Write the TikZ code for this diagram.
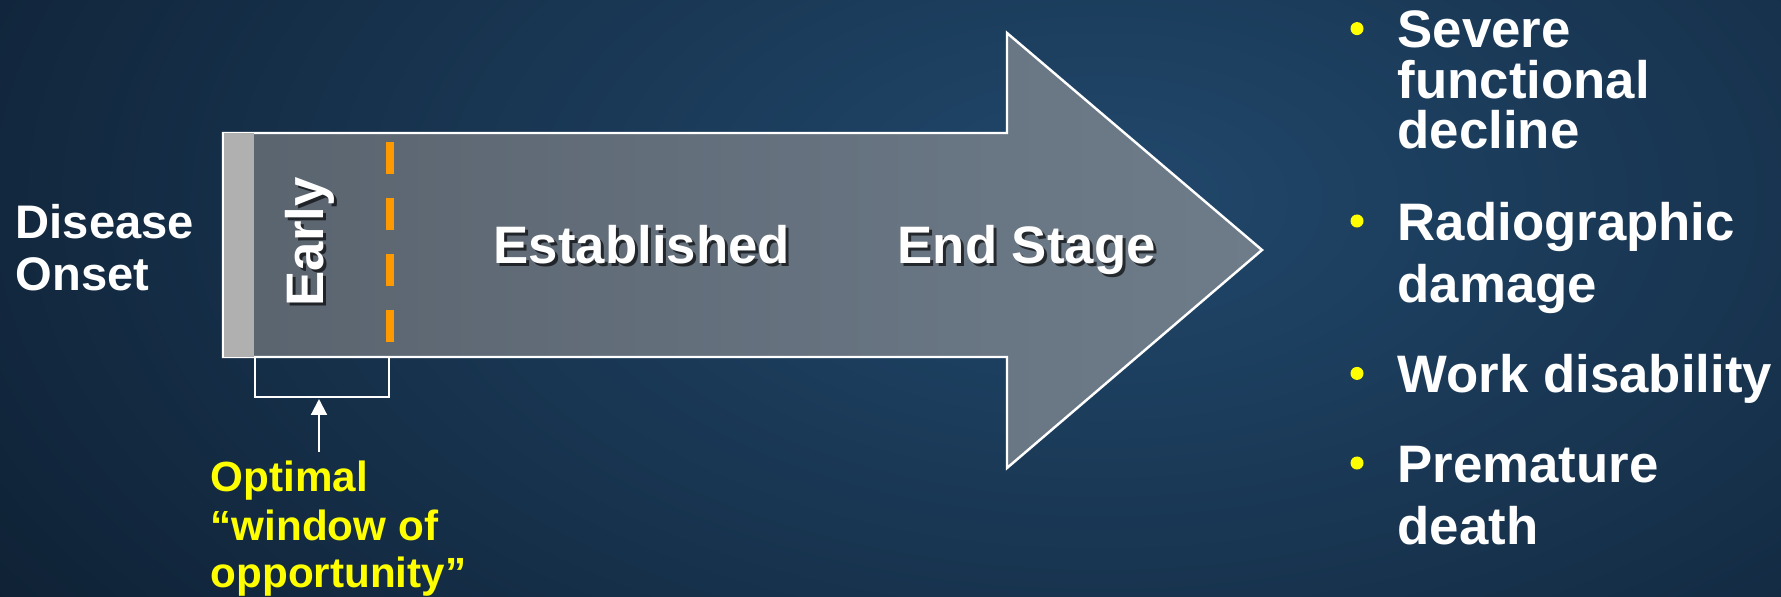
\documentclass[tikz,border=0pt]{standalone}
\usepackage{fontspec}
\setmainfont{Liberation Sans}
\usetikzlibrary{arrows.meta}

\definecolor{bgdark}{RGB}{11,25,41}
\definecolor{bglight}{RGB}{33,72,108}
\definecolor{shaftL}{RGB}{90,100,111}
\definecolor{shaftR}{RGB}{110,124,138}
\definecolor{onsetgray}{RGB}{176,176,176}
\definecolor{earlyorange}{RGB}{255,153,0}
\definecolor{hiyellow}{RGB}{255,255,0}

\begin{document}
\begin{tikzpicture}[x=0.01cm, y=-0.01cm, >={Triangle[length=4.5pt,width=4.5pt]},
  lbl/.style={inner sep=0, text=white, anchor=base west},
  stage/.style={lbl, font=\fontsize{15}{18}\selectfont\bfseries},
  shadow/.style={text=black, opacity=.65},
  item/.style={lbl, font=\fontsize{15}{18}\selectfont\bfseries},
  note/.style={lbl, text=hiyellow, font=\fontsize{12}{14}\selectfont\bfseries},
  dot/.style={circle, fill=hiyellow, inner sep=0, minimum size=3.7pt}]
% ---------- parameters ----------
\def\xL{223}   % left end of arrow
\def\xN{1007}  % start of arrow head
\def\xT{1262}  % tip
\def\yT{133}   % top of shaft
\def\yB{357}   % bottom of shaft

% ---------- background ----------
\useasboundingbox (0,0) rectangle (1781,597);
\begin{scope}
  \clip (0,0) rectangle (1781,597);
  \shade[inner color=bglight, outer color=bgdark] (-500,-700) rectangle (2700,1100);
\end{scope}

% ---------- arrow ----------
\draw[white, line width=0.7pt, left color=shaftL, right color=shaftR, line join=miter]
  (\xL,\yT) -- (\xN,\yT) -- (\xN,33) -- (\xT,250) -- (\xN,468) -- (\xN,\yB) -- (\xL,\yB) -- cycle;
\fill[onsetgray] (\xL,\yT) rectangle (254,\yB);
\draw[white, line width=0.7pt] (\xL,\yT) -- (\xL,\yB);

% early / established boundary
\draw[earlyorange, line width=2.3pt, dash pattern=on 9.1pt off 6.8pt] (390,142) -- (390,342);

% ---------- stage labels ----------
\node[stage, shadow, rotate=90] (earlysh) at (326,310) {Early};
\node[stage, rotate=90] (early) at (323,307) {Early};
\node[stage, shadow] (estsh) at (496,266) {Established};
\node[stage] (est) at (493,263) {Established};
\node[stage, shadow] (endsh) at (900,266) {End Stage};
\node[stage] (end) at (897,263) {End Stage};

% ---------- onset ----------
\node[lbl, font=\fontsize{13.4}{16}\selectfont\bfseries] (dis) at (15,238) {Disease};
\node[lbl, font=\fontsize{13.4}{16}\selectfont\bfseries] (ons) at (15,290) {Onset};

% ---------- window of opportunity ----------
\draw[white, line width=0.6pt] (255,\yB) -- (255,397) -- (389,397) -- (389,\yB);
\coordinate (wtip) at (319,399);
\coordinate (wtail) at (319,452);
\draw[->, white, line width=0.6pt] (wtail) -- (wtip);
\node[note] (opt) at (210,491) {Optimal};
\node[note] (win) at (210,540) {``window of};
\node[note] (opp) at (210,587) {opportunity''};

% ---------- consequences ----------
\foreach \y/\t [count=\i] in {47.6/Severe, 98.3/functional, 148.6/decline,
    240/Radiographic, 302.9/damage, 392.4/Work disability,
    482/Premature, 544.8/death}
  \node[item] (c\i) at (1397,\y) {\t};
\foreach \y [count=\i] in {47.6,240,392.4,482}
  \node[dot] (b\i) at (1357,\y-19) {};

\end{tikzpicture}
\end{document}
